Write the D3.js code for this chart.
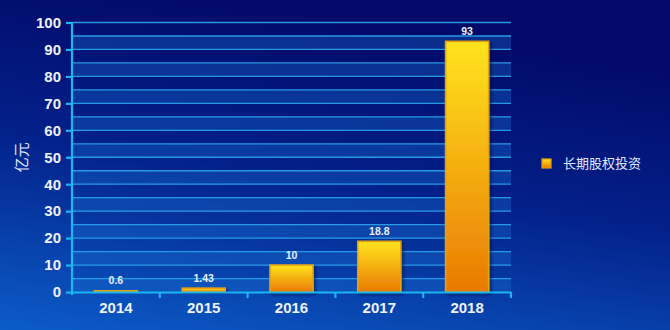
<!DOCTYPE html>
<html><head><meta charset="utf-8">
<script src="https://cdn.jsdelivr.net/npm/d3@7/dist/d3.min.js"></script>
<style>html,body{margin:0;padding:0;background:#03106f;}svg{display:block;}</style>
</head><body>
<svg id="c" width="670" height="330"></svg>
<script>
const categories = ["2014","2015","2016","2017","2018"];
const values = [0.6, 1.43, 10, 18.8, 93];
const valueLabels = ["0.6","1.43","10","18.8","93"];
const yTicks = [0,10,20,30,40,50,60,70,80,90,100];
const seriesName = "长期股权投资";
const yTitle = "亿元";

const W = 670, H = 330;
const m = {left:72, right:159, top:22.5, bottom:38};
const svg = d3.select("#c");
const defs = svg.append("defs");

const bg = defs.append("linearGradient").attr("id","bg").attr("x1",0.3).attr("y1",0).attr("x2",0).attr("y2",1);
bg.append("stop").attr("offset","0").attr("stop-color","#020a69");
bg.append("stop").attr("offset","0.45").attr("stop-color","#03218a");
bg.append("stop").attr("offset","1").attr("stop-color","#0b5cc8");
svg.append("rect").attr("width",W).attr("height",H).attr("fill","url(#bg)");

const bar = defs.append("linearGradient").attr("id","bar").attr("x1",0).attr("y1",0).attr("x2",0).attr("y2",1);
bar.append("stop").attr("offset","0").attr("stop-color","#ffe41e");
bar.append("stop").attr("offset","1").attr("stop-color","#e97a02");
const sh = defs.append("filter").attr("id","sh").attr("x","-20%").attr("y","-20%").attr("width","150%").attr("height","150%");
sh.append("feDropShadow").attr("dx",2).attr("dy",2).attr("stdDeviation",1.5).attr("flood-color","#001040").attr("flood-opacity",0.6);

const x = d3.scaleBand().domain(categories).range([m.left, W - m.right]).paddingInner(0).paddingOuter(0);
const y = d3.scaleLinear().domain([0,100]).range([H - m.bottom, m.top]);

// alternating bands
const bands = d3.range(0,100,10);
svg.append("g").selectAll("rect").data(bands).join("rect")
  .attr("x", m.left).attr("width", W - m.right - m.left)
  .attr("y", d => y(d+5)).attr("height", d => y(d) - y(d+5))
  .attr("fill","#1a6fd0").attr("opacity",0.35);

// gridlines every 5
svg.append("g").selectAll("line").data(d3.range(5,101,5)).join("line")
  .attr("x1", m.left).attr("x2", W - m.right)
  .attr("y1", d => y(d)).attr("y2", d => y(d))
  .attr("stroke","#2aa6ee").attr("stroke-width",1.3).attr("opacity",0.9);

// bars
svg.append("g").selectAll("rect").data(values).join("rect")
  .attr("x", (d,i) => x(categories[i]) + x.bandwidth()*0.255)
  .attr("width", x.bandwidth()*0.49)
  .attr("y", d => y(d)).attr("height", d => y(0) - y(d))
  .attr("fill","url(#bar)").attr("stroke","#e6a20a").attr("stroke-width",1.6)
  .attr("filter","url(#sh)");

// value labels
svg.append("g").selectAll("text").data(values).join("text")
  .attr("x", (d,i) => x(categories[i]) + x.bandwidth()/2)
  .attr("y", d => y(d) - 6)
  .attr("text-anchor","middle")
  .attr("font-family","Liberation Sans, Arial, sans-serif").attr("font-weight","bold")
  .attr("font-size",10.5).attr("fill","#e8f0ff")
  .text((d,i) => valueLabels[i]);

// y axis
const yAxis = svg.append("g").attr("transform",`translate(${m.left},0)`)
  .call(d3.axisLeft(y).tickValues(yTicks).tickSize(6).tickPadding(5));
yAxis.select(".domain").attr("stroke","#1cb6f2").attr("stroke-width",2.2).attr("d",`M0,${y(0)+3}V${y(100)}`);
yAxis.selectAll(".tick line").attr("stroke","#1cb6f2").attr("stroke-width",2.2);
yAxis.selectAll(".tick text").attr("fill","#eef3ff").attr("font-size",15).attr("font-weight","bold")
  .attr("font-family","Liberation Sans, Arial, sans-serif");

// x axis
const xAxis = svg.append("g").attr("transform",`translate(0,${y(0)})`)
  .call(d3.axisBottom(x).tickSize(0).tickPadding(10));
xAxis.select(".domain").attr("stroke","#1cb6f2").attr("stroke-width",2.2);
xAxis.selectAll(".tick text").attr("fill","#eef3ff").attr("font-size",15).attr("font-weight","bold")
  .attr("font-family","Liberation Sans, Arial, sans-serif");
// boundary ticks
xAxis.append("g").selectAll("line").data(categories.slice(1).concat(["end"])).join("line")
  .attr("x1", (d,i) => i < categories.length-1 ? x(d) : W - m.right)
  .attr("x2", (d,i) => i < categories.length-1 ? x(d) : W - m.right)
  .attr("y1",0).attr("y2",6).attr("stroke","#1cb6f2").attr("stroke-width",2.2);

// y title
svg.append("text").attr("transform",`translate(27,${(y(0)+y(100))/2}) rotate(-90)`)
  .attr("text-anchor","middle").attr("font-family","Noto Sans CJK SC, sans-serif")
  .attr("font-size",15).attr("fill","#e0e8ff").text(yTitle);

// legend
const lg = svg.append("g").attr("transform","translate(542,159)");
lg.append("rect").attr("width",9).attr("height",9).attr("fill","url(#bar)").attr("stroke","#e6a20a").attr("stroke-width",1.2);
lg.append("text").attr("x",21).attr("y",9).attr("font-family","Noto Sans CJK SC, sans-serif")
  .attr("font-size",13).attr("fill","#e0e8ff").text(seriesName);
</script>
</body></html>
